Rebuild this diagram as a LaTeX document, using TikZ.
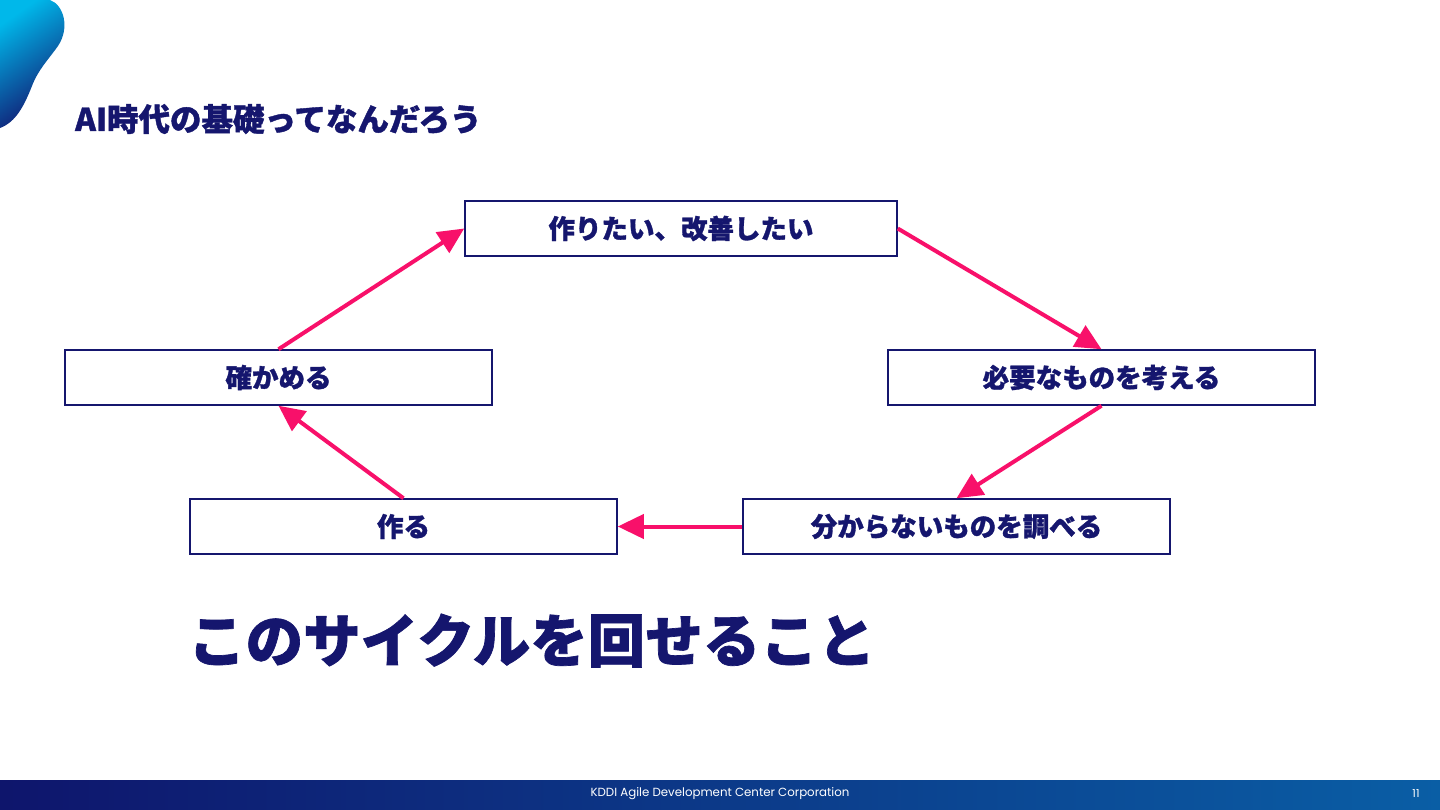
\documentclass[tikz,border=0pt]{standalone}
\usepackage{fontspec}
\setmainfont{Poppins}
\newfontfamily\jpfont{Noto Sans CJK JP}[BoldFeatures={FakeBold=1.2}]
\usetikzlibrary{arrows.meta,positioning}

\definecolor{slidenavy}{HTML}{15166E}
\definecolor{cyclepink}{HTML}{F8106A}
\definecolor{bandleft}{HTML}{0E156C}
\definecolor{bandright}{HTML}{0A5EA5}
\definecolor{blobtop}{HTML}{00B8EA}
\definecolor{blobbottom}{HTML}{130F6A}

\tikzset{
  stepbox/.style={draw=slidenavy, line width=1.5pt, fill=white, inner sep=0pt,
    minimum width=427pt, minimum height=55pt, text=slidenavy,
    font=\jpfont\bfseries\fontsize{26.5}{30}\selectfont},
  cyclearrow/.style={draw=cyclepink, line width=4pt,
    -{Triangle[length=26pt,width=24pt]}},
}

\begin{document}
\begin{tikzpicture}[x=1pt,y=-1pt]
  \useasboundingbox (0,0) rectangle (1440,810);
  \fill[white] (0,0) rectangle (1440,810);

  % corner mark
  \shade[top color=blobtop, bottom color=blobbottom, shading angle=35]
    (0,0) -- (50,0) .. controls (64,5) and (70,28) .. (58,46)
    .. controls (48,60) and (38,70) .. (32,86)
    .. controls (24,106) and (16,122) .. (0,128) -- cycle;

  % title
  \node[anchor=base west, inner sep=0pt, text=slidenavy,
    font=\jpfont\bfseries\fontsize{31.5}{36}\selectfont] (title) at (75,131)
    {AI時代の基礎ってなんだろう};

  % cycle
  \node[stepbox, minimum width=432pt] (want) at (681,228.5) {作りたい、改善したい};
  \node[stepbox] (check) at (278.5,377.5) {確かめる};
  \node[stepbox] (need) at (1101.5,377.5) {必要なものを考える};
  \node[stepbox] (make) at (403.5,526.5) {作る};
  \node[stepbox] (research) at (956.5,526.5) {分からないものを調べる};

  \draw[cyclearrow] (check.north) -- (want.west);
  \draw[cyclearrow] (want.east) -- (need.north);
  \draw[cyclearrow] (need.south) -- (research.north);
  \draw[cyclearrow] (research.west) -- (make.east);
  \draw[cyclearrow] (make.north) -- (check.south);

  % message
  \node[anchor=base west, inner sep=0pt, text=slidenavy,
    font=\jpfont\bfseries\fontsize{57.5}{68}\selectfont] (message) at (188,662)
    {このサイクルを回せること};

  % footer
  \shade[left color=bandleft, right color=bandright] (0,780) rectangle (1440,810);
  \node[text=white, inner sep=0pt, font=\fontsize{11.8}{14}\selectfont]
    (company) at (720,794) {KDDI Agile Development Center Corporation};
  \node[text=white, inner sep=0pt, font=\fontsize{11}{13}\selectfont]
    (pageno) at (1416,794) {11};
\end{tikzpicture}
\end{document}
